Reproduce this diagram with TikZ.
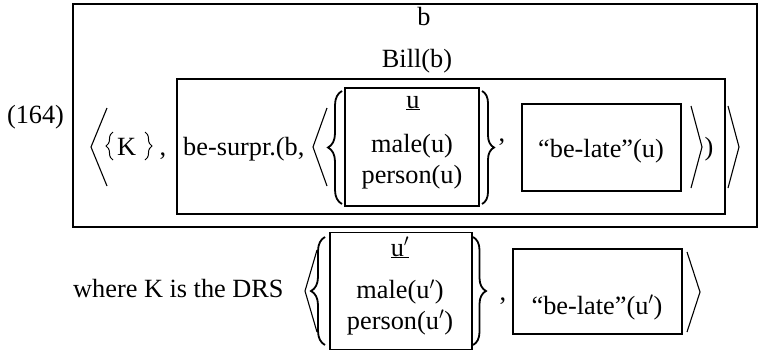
\documentclass[tikz,border=0pt]{standalone}
\usepackage{fontspec}
\setmainfont{Liberation Serif}
\usetikzlibrary{decorations.pathreplacing}
\begin{document}
\begin{tikzpicture}[x=1pt,y=-1pt,
  drsbox/.style={draw, line width=1.8pt, inner sep=0pt},
  txt/.style={font=\fontsize{26.3}{30}\selectfont, inner sep=0pt, anchor=base},
  angl/.style={line width=1.1pt, line join=miter},
  bigbrace/.style={line width=1.8pt, decorate, decoration={brace, amplitude=#1}},
  smallbrace/.style={line width=1pt, decorate, decoration={brace, amplitude=#1}},
]
\useasboundingbox (0,0) rectangle (767,351);

% boxes
\node[drsbox, minimum width=684pt, minimum height=223pt] (outer) at (415,115.5) {};
\node[drsbox, minimum width=548pt, minimum height=135pt] (inner) at (451,146.5) {};
\node[drsbox, minimum width=134pt, minimum height=118pt] (ubox) at (412,147) {};
\node[drsbox, minimum width=159pt, minimum height=87pt] (late) at (601.5,147.5) {};
\node[drsbox, minimum width=142pt, minimum height=117pt] (ubox2) at (401,291) {};
\node[drsbox, minimum width=169pt, minimum height=85pt] (late2) at (597.5,291.5) {};

% texts, first line
\node[txt] (num) at (35.5,123) {(164)};
\node[txt] (bvar) at (424,25) {b};
\node[txt] (bill) at (417,67) {Bill(b)};
\node[txt, anchor=base west] (K) at (117,155) {K};
\node[txt] (c1) at (163,155) {,};
\node[txt, anchor=base west] (surpr) at (183,155) {be-surpr.(b,};
\node[txt] (uvar) at (413,108) {\underline{u}};
\node[txt] (male) at (412,152) {male(u)};
\node[txt] (pers) at (412,183) {person(u)};
\node[txt] (c2) at (502,141) {,};
\node[txt] (latetxt) at (601,157) {“be-late”(u)};
\node[txt] (paren) at (709,155) {)};

% texts, second line
\node[txt, anchor=base west] (where) at (73,297) {where K is the DRS};
\node[txt] (uvar2) at (400,256) {\underline{u$'$}};
\node[txt] (male2) at (400,298.5) {male(u$'$)};
\node[txt] (pers2) at (400,329) {person(u$'$)};
\node[txt] (c3) at (503,300) {,};
\node[txt] (latetxt2) at (597,314) {“be-late”(u$'$)};

% angle brackets
\draw[angl] (107,108) -- (91,147) -- (107,186);
\draw[angl] (327,108) -- (313,147) -- (327,186);
\draw[angl] (691,106) -- (702,147) -- (691,188);
\draw[angl] (728,106) -- (739,147) -- (728,188);
\draw[angl] (317,250) -- (305,291) -- (317,332);
\draw[angl] (687,252) -- (700,292) -- (687,332);

% braces
\draw[smallbrace=7pt] (113,160) -- (113,132);
\draw[smallbrace=7pt] (145,132) -- (145,160);
\draw[bigbrace=14pt] (342,204) -- (342,91);
\draw[bigbrace=12pt] (482,91) -- (482,204);
\draw[bigbrace=14pt] (325,345) -- (325,237);
\draw[bigbrace=13pt] (473,237) -- (473,345);
\end{tikzpicture}
\end{document}
